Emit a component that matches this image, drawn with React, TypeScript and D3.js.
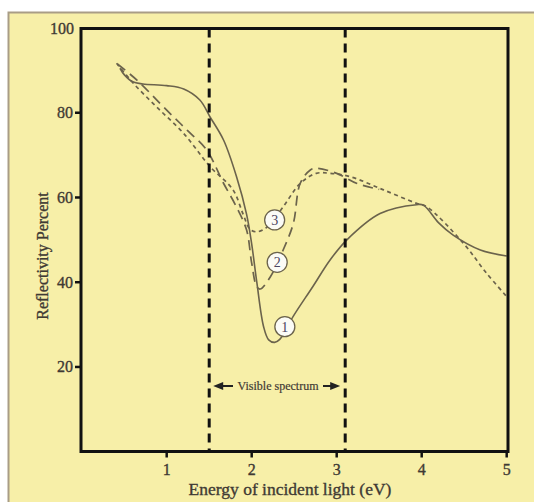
import React from "react";
import * as d3 from "d3";

const W = 534;
const H = 502;

const xTicks = [1, 2, 3, 4, 5];
const yTicks = [20, 40, 60, 80, 100];
const visibleBounds = [1.5, 3.1];
const visibleLabel = "Visible spectrum";
const xTitle = "Energy of incident light (eV)";
const yTitle = "Reflectivity Percent";

// Curve 1 (solid)
const curve1X = [0.45, 0.5, 0.6, 0.72, 1.0, 1.2, 1.39, 1.51, 1.67, 1.82, 1.94, 2.0, 2.06, 2.14, 2.2, 2.27, 2.33, 2.49, 2.72, 2.92, 3.12, 3.51, 3.94, 4.02, 4.2, 4.37, 4.69, 5.0];
const curve1Y = [90.5, 89, 87.3, 86.8, 86.4, 85.6, 83, 79, 73.5, 65, 56, 49, 40, 29.5, 26.4, 25.8, 26.5, 32, 39, 45.2, 50, 56.2, 58.3, 58.2, 54, 51.1, 47.6, 46.2];

// Curve 2 (long dash)
const curve2X = [0.42, 0.65, 1.0, 1.24, 1.47, 1.67, 1.82, 1.94, 2.0, 2.06, 2.1, 2.22, 2.37, 2.49, 2.57, 2.69, 2.76, 3.0, 3.24, 3.5];
const curve2Y = [91.5, 87.7, 80.6, 75.9, 71.2, 63.3, 57.8, 52.3, 44.5, 38.9, 38.4, 41.3, 47.6, 53.9, 63.3, 66.5, 66.9, 65.7, 63.3, 61.9];

// Curve 3 (short dash)
const curve3X = [0.41, 0.61, 0.88, 1.2, 1.51, 1.78, 1.9, 1.98, 2.06, 2.18, 2.37, 2.57, 2.76, 2.92, 3.16, 3.55, 3.94, 4.06, 4.49, 4.76, 5.0];
const curve3Y = [91.7, 86.9, 81.4, 75.1, 67.3, 61.8, 56, 52.5, 51.9, 53, 57.8, 63.3, 65.7, 65.7, 64.9, 61.8, 58.6, 57.8, 49.2, 42.2, 36.6];

// Circle labels
const labelNames = ["1", "2", "3"];
const labelX = [2.39, 2.3, 2.27];
const labelY = [29.5, 44.7, 54.7];

const INK = "#6b634c";
const TEXT = "#3f3a34";

export default function App() {
  const x = d3.scaleLinear().domain([0, 5]).range([81.7, 506.7]);
  const y = d3.scaleLinear().domain([0, 100]).range([451.7, 28]);
  const left = 81;
  const right = 508;
  const top = 28.5;
  const bottom = 451.5;

  const line = d3
    .line<[number, number]>()
    .x((d) => x(d[0]))
    .y((d) => y(d[1]))
    .curve(d3.curveCatmullRom.alpha(0.5));

  const c1 = line(curve1X.map((v, i) => [v, curve1Y[i]] as [number, number]));
  const c2 = line(curve2X.map((v, i) => [v, curve2Y[i]] as [number, number]));
  const c3 = line(curve3X.map((v, i) => [v, curve3Y[i]] as [number, number]));

  const vy = 386;
  const vL = x(visibleBounds[0]) + 4;
  const vR = x(visibleBounds[1]) - 5;
  const vMid = 278;
  const textHalf = 45;

  const txt = { fill: TEXT, stroke: TEXT, strokeWidth: 0.35 };

  return (
    <svg
      width={W}
      height={H}
      style={{ position: "absolute", left: 0, top: 0, display: "block" }}
      fontFamily="'Liberation Serif', 'DejaVu Serif', serif"
    >
      <rect x={0} y={0} width={W} height={H} fill="#ffffff" />
      <rect x={8.5} y={12.5} width={W + 10} height={H + 10} fill="#f7efa8" stroke="#a99d86" strokeWidth={2} />

      {/* curves */}
      <path d={c3 || ""} fill="none" stroke={INK} strokeWidth={1.7} strokeDasharray="4 3.5" />
      <path d={c2 || ""} fill="none" stroke={INK} strokeWidth={1.7} strokeDasharray="10 6" />
      <path d={c1 || ""} fill="none" stroke={INK} strokeWidth={1.6} />

      {/* visible spectrum boundaries */}
      {visibleBounds.map((b, i) => (
        <line key={i} x1={x(b)} x2={x(b)} y1={top} y2={bottom} stroke="#111" strokeWidth={3} strokeDasharray="9 6" />
      ))}

      {/* frame */}
      <rect x={left} y={top} width={right - left} height={bottom - top} fill="none" stroke="#111" strokeWidth={3} />

      {/* x ticks */}
      {xTicks.map((t) => (
        <g key={t}>
          <line x1={x(t)} x2={x(t)} y1={bottom} y2={bottom + 6} stroke="#111" strokeWidth={2.5} />
          <text x={x(t)} y={475} textAnchor="middle" fontSize={16} {...txt}>
            {t}
          </text>
        </g>
      ))}
      {/* y ticks */}
      {yTicks.map((t) => (
        <g key={t}>
          {t < 100 && <line x1={left - 6} x2={left} y1={y(t)} y2={y(t)} stroke="#111" strokeWidth={2.5} />}
          <text x={t < 100 ? 73 : 74} y={y(t) + 5.5} textAnchor="end" fontSize={16} {...txt}>
            {t}
          </text>
        </g>
      ))}

      <text x={290} y={495} textAnchor="middle" fontSize={17.5} {...txt}>
        {xTitle}
      </text>
      <text transform="translate(48,256) rotate(-90)" textAnchor="middle" fontSize={16} {...txt}>
        {yTitle}
      </text>

      {/* visible spectrum arrows */}
      <line x1={vL + 6} x2={vMid - textHalf} y1={vy} y2={vy} stroke="#222" strokeWidth={2} />
      <line x1={vMid + textHalf} x2={vR - 6} y1={vy} y2={vy} stroke="#222" strokeWidth={2} />
      <path d={`M${vL},${vy} L${vL + 10},${vy - 4} L${vL + 10},${vy + 4} Z`} fill="#222" />
      <path d={`M${vR},${vy} L${vR - 10},${vy - 4} L${vR - 10},${vy + 4} Z`} fill="#222" />
      <text x={vMid} y={vy + 4} textAnchor="middle" fontSize={12} fill={TEXT} stroke={TEXT} strokeWidth={0.2}>
        {visibleLabel}
      </text>

      {/* circle labels */}
      {labelNames.map((n, i) => (
        <g key={n}>
          <circle cx={x(labelX[i])} cy={y(labelY[i])} r={10} fill="#fbfbf6" stroke={INK} strokeWidth={1.3} />
          <text x={x(labelX[i])} y={y(labelY[i]) + 5} textAnchor="middle" fontSize={14} fill="#4b4560">
            {n}
          </text>
        </g>
      ))}
    </svg>
  );
}
